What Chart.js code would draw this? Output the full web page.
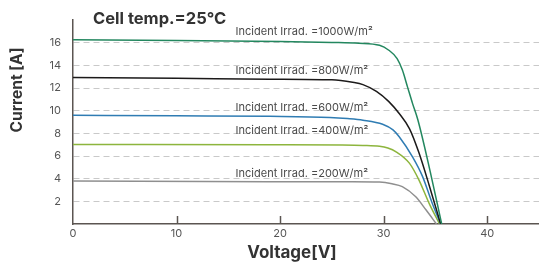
<!DOCTYPE html>
<html>
<head>
<meta charset="utf-8">
<script src="https://cdn.jsdelivr.net/npm/chart.js@4/dist/chart.umd.min.js"></script>
<style>
  html, body { margin: 0; padding: 0; background: #fff; }
  #wrap { position: relative; width: 539px; height: 264px; }
</style>
</head>
<body>
<div id="wrap"><canvas id="iv"></canvas></div>
<script>
// curve I-V per irraggiamento, lette a occhio dal grafico
const v1000 = [0, 10, 20, 25, 27.6, 29.6, 30.5, 31.3, 31.8, 32.3, 32.8, 33.3, 34.5, 35.6];
const i1000 = [16.25, 16.2, 16.1, 16.02, 15.95, 15.77, 15.33, 14.6, 13.6, 12.1, 10.6, 9.2, 4.6, 0];
const v800 = [0, 10, 19, 25, 27, 28, 29.3, 30.5, 31.5, 32.5, 33.4, 34.4, 35.5];
const i800 = [12.92, 12.86, 12.78, 12.72, 12.5, 12.3, 11.7, 10.8, 9.75, 8.4, 6.3, 3.4, 0];
const v600 = [0, 10, 19, 24.8, 26.5, 28, 29.9, 30.9, 31.5, 32.8, 33.75, 34.7, 35.5];
const i600 = [9.6, 9.55, 9.5, 9.4, 9.3, 9.16, 8.8, 8.3, 7.7, 5.9, 4.2, 1.8, 0];
const v400 = [0, 19, 26, 28, 29.6, 30.4, 31.2, 32.5, 33.4, 34.4, 35.4];
const i400 = [7.02, 7.0, 6.97, 6.93, 6.85, 6.7, 6.37, 5.35, 3.9, 1.8, 0];
const v200 = [0, 19, 27, 29.6, 30.8, 31.8, 33.1, 34.1, 35.1];
const i200 = [3.79, 3.73, 3.73, 3.7, 3.55, 3.3, 2.4, 1.23, 0];
const etichette = [
  'Incident Irrad. =1000W/m²',
  'Incident Irrad. =800W/m²',
  'Incident Irrad. =600W/m²',
  'Incident Irrad. =400W/m²',
  'Incident Irrad. =200W/m²',
];
const xTicks = [0, 10, 20, 30, 40];
const yTicks = [2, 4, 6, 8, 10, 12, 14, 16];

const FONT = 'Inter, "Noto Sans", sans-serif';
const AXIS = '#5b5551';
// dove appoggiare le etichette, in coordinate dati (V, A)
const LABEL_POS = [[15.7, 17.0], [15.7, 13.55], [15.7, 10.3], [15.7, 8.25], [15.7, 4.45]];

function punti(vs, is) {
  return vs.map((v, k) => ({ x: v, y: is[k] }));
}

function serie(vs, is, color) {
  return {
    data: punti(vs, is),
    borderColor: color,
    borderWidth: 1.5,
    pointRadius: 0,
    cubicInterpolationMode: 'monotone',
    fill: false,
  };
}

const decorazioni = {
  id: 'decorazioni',
  afterDatasetsDraw(chart) {
    const { ctx, scales: { x, y } } = chart;
    ctx.save();
    // tacche verso l'interno sull'asse x
    ctx.strokeStyle = AXIS;
    ctx.lineWidth = 1.5;
    xTicks.filter((t) => t > 0).forEach((t) => {
      const px = Math.round(x.getPixelForValue(t)) + 0.5;
      ctx.beginPath();
      ctx.moveTo(px, y.bottom);
      ctx.lineTo(px, y.bottom - 8);
      ctx.stroke();
    });
    // etichette delle curve
    ctx.fillStyle = '#4a4a4a';
    ctx.font = '11px ' + FONT;
    ctx.textBaseline = 'middle';
    etichette.forEach((txt, k) => {
      ctx.fillText(txt, x.getPixelForValue(LABEL_POS[k][0]), y.getPixelForValue(LABEL_POS[k][1]));
    });
    // titolo e titoli assi (non centrati sull'area, come nell'originale)
    ctx.fillStyle = '#333';
    ctx.font = 'bold 16.5px ' + FONT;
    ctx.fillText('Cell temp.=25℃', 93, 19);
    ctx.textAlign = 'center';
    ctx.font = 'bold 17px ' + FONT;
    ctx.fillText('Voltage[V]', 292, 253);
    ctx.translate(17.5, 90);
    ctx.rotate(-Math.PI / 2);
    ctx.font = 'bold 15.5px ' + FONT;
    ctx.fillText('Current [A]', 0, 0);
    ctx.restore();
  },
};

new Chart(document.getElementById('iv'), {
  type: 'line',
  data: {
    datasets: [
      serie(v1000, i1000, '#23875f'),
      serie(v800, i800, '#1c1a1a'),
      serie(v600, i600, '#2f7cb3'),
      serie(v400, i400, '#8db53d'),
      serie(v200, i200, '#8f8f8f'),
    ],
  },
  options: {
    responsive: true,
    maintainAspectRatio: false,
    animation: false,
    layout: { padding: { top: 20, right: 0, left: 0, bottom: 0 } },
    plugins: { legend: { display: false }, tooltip: { enabled: false } },
    scales: {
      x: {
        type: 'linear',
        min: 0, max: 45,
        afterFit: (s) => { s.height = 40; },
        afterBuildTicks: (s) => { s.ticks = xTicks.map((v) => ({ value: v })); },
        ticks: { color: '#555', font: { family: FONT, size: 11 }, padding: 3, maxRotation: 0 },
        grid: { display: false, drawTicks: false },
        border: { color: AXIS, width: 1.5 },
      },
      y: {
        min: 0, max: 18,
        afterFit: (s) => { s.width = 73; },
        afterBuildTicks: (s) => { s.ticks = yTicks.map((v) => ({ value: v })); },
        ticks: { color: '#555', font: { family: FONT, size: 11 }, padding: 12 },
        grid: { color: '#c9c9c9', lineWidth: 1, drawTicks: false },
        border: { color: AXIS, width: 1.5, dash: [6, 4] },
      },
    },
  },
  plugins: [decorazioni],
});
</script>
</body>
</html>
